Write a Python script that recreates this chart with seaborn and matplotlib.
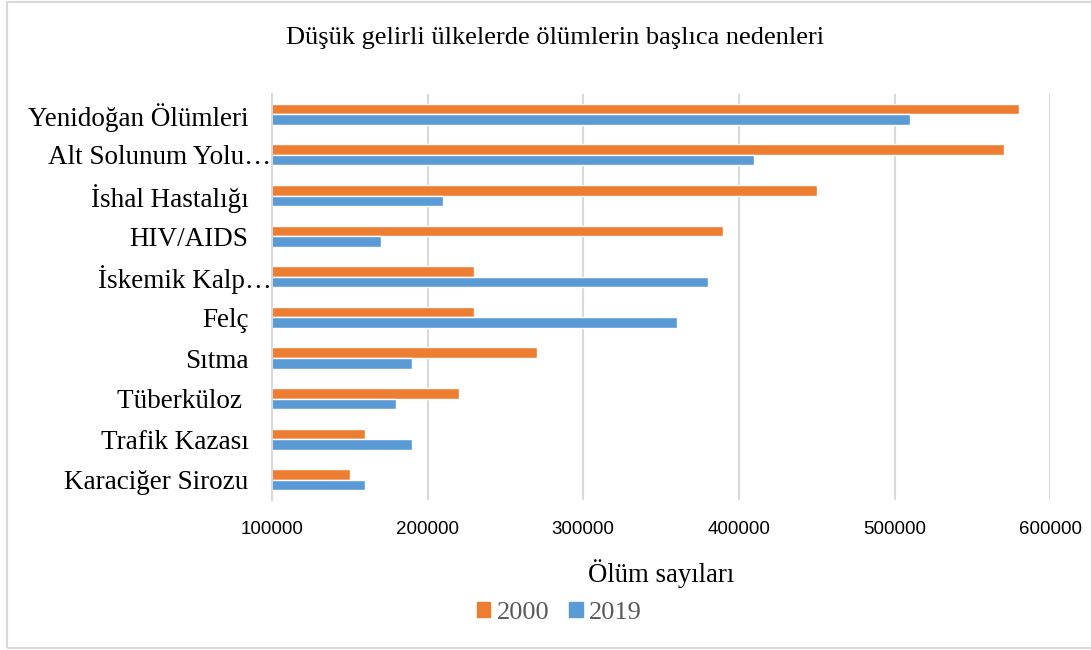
import pandas as pd
import matplotlib.pyplot as plt
import seaborn as sns
from matplotlib.patches import Rectangle
from matplotlib.transforms import ScaledTranslation

categories = ["Yenidoğan Ölümleri", "Alt Solunum Yolu…", "İshal Hastalığı", "HIV/AIDS",
              "İskemik Kalp…", "Felç", "Sıtma", "Tüberküloz ", "Trafik Kazası", "Karaciğer Sirozu"]
deaths_2000 = [580000, 570000, 450000, 390000, 230000, 230000, 270000, 220000, 160000, 150000]
deaths_2019 = [510000, 410000, 210000, 170000, 380000, 360000, 190000, 180000, 190000, 160000]
years = ["2000", "2019"]
colors = ["#ED7D31", "#5B9BD5"]

df = pd.DataFrame({
    "Neden": categories * 2,
    "Ölüm": deaths_2000 + deaths_2019,
    "Yıl": [years[0]] * len(categories) + [years[1]] * len(categories),
})

sns.set_style("white")
serif = ["Liberation Serif", "DejaVu Serif"]
sans = ["Liberation Sans", "DejaVu Sans"]

fig = plt.figure(figsize=(10.91, 6.5), dpi=100)
ax = fig.add_axes([0.2493, 0.2305, 0.7133, 0.6249])

sns.barplot(data=df, y="Neden", x="Ölüm", hue="Yıl", hue_order=years,
            palette=colors, orient="h", width=0.52, gap=0, saturation=1,
            legend=False, ax=ax)

ax.set_xlim(100000, 600000)
ax.set_xticks([100000, 200000, 300000, 400000, 500000, 600000])
ax.set_xticklabels(["100000", "200000", "300000", "400000", "500000", "600000"],
                   family=sans, fontsize=13.5, color="black")
ax.set_yticks(range(len(categories)))
ax.set_yticklabels(categories, family=serif, fontsize=19.5, color="black")
ax.set_xlabel("")
ax.set_ylabel("")
ax.tick_params(axis="both", length=0)
ax.tick_params(axis="x", pad=15)
ax.tick_params(axis="y", pad=17)
# truncated labels reach the axis like in the original
for lab in ax.get_yticklabels():
    if lab.get_text().endswith("…"):
        lab.set_transform(lab.get_transform() + ScaledTranslation(0.23, 0, fig.dpi_scale_trans))
ax.grid(axis="x", color="#D9D9D9", linewidth=1.5)
ax.set_axisbelow(True)
for s in ["top", "right", "bottom"]:
    ax.spines[s].set_visible(False)
ax.spines["left"].set_color("#D9D9D9")
ax.spines["left"].set_linewidth(1.5)

fig.text(0.509, 0.941, "Düşük gelirli ülkelerde ölümlerin başlıca nedenleri",
         ha="center", va="center", family=serif, fontsize=19, color="black")
fig.text(0.606, 0.118, "Ölüm sayıları", ha="center", va="center",
         family=serif, fontsize=19.3, color="black")

handles = [Rectangle((0, 0), 1, 1, color=c) for c in colors]
fig.legend(handles, years, loc="center", bbox_to_anchor=(0.513, 0.0575), ncol=2,
           frameon=False, prop={"family": serif, "size": 19}, labelcolor="#595959",
           handlelength=0.5, handleheight=0.5, handletextpad=0.25, columnspacing=0.75)

fig.patches.append(Rectangle((0.0062, 0.0035), 1.1, 0.994, transform=fig.transFigure,
                             fill=False, edgecolor="#D9D9D9", linewidth=1.5))

fig.savefig("out.png", dpi=100)
